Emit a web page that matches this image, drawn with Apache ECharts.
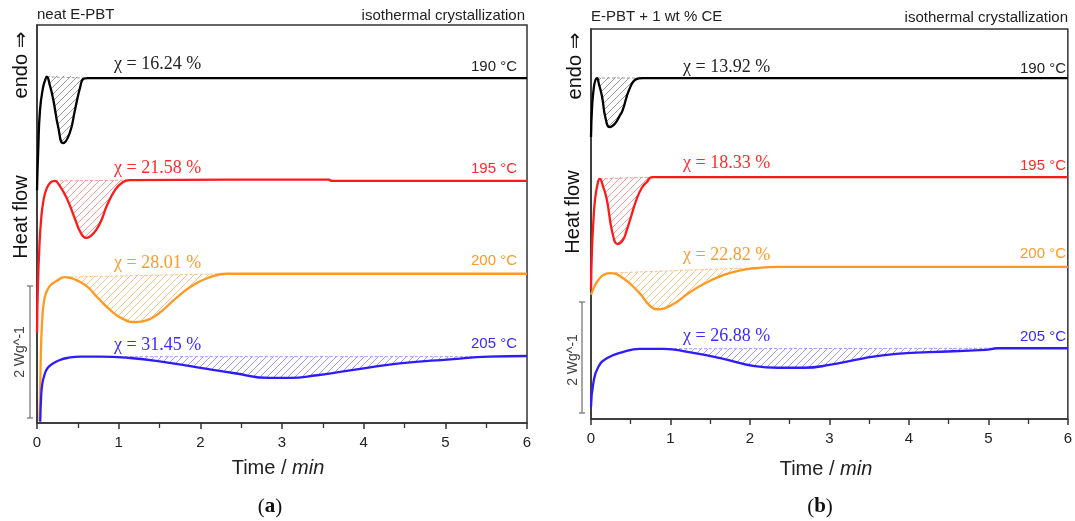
<!DOCTYPE html>
<html><head><meta charset="utf-8">
<script src="https://cdn.jsdelivr.net/npm/echarts@6/dist/echarts.min.js"></script>
<style>html,body{margin:0;padding:0;background:#fff}#c{width:1075px;height:521px}</style>
</head><body><div id="c"></div>
<script>
// ---------- data ----------
const temps = ['190 °C', '195 °C', '200 °C', '205 °C'];
const crystA = ['χ = 16.24 %', 'χ = 21.58 %', 'χ = 28.01 %', 'χ = 31.45 %'];
const crystB = ['χ = 13.92 %', 'χ = 18.33 %', 'χ = 22.82 %', 'χ = 26.88 %'];
const xTicks = [0, 1, 2, 3, 4, 5, 6];

// panel (a): neat E-PBT  (time in min, heat flow in W/g, curves offset)
const tA190 = [0,0.015,0.037,0.073,0.1,0.119,0.16,0.2,0.26,0.32,0.4,0.465,0.53,0.57,0.62,6];
const vA190 = [3.51,4.12,4.72,5.05,5.17,5.22,5.08,4.87,4.46,4.22,4.37,4.72,5.07,5.19,5.20,5.20];
const tA195 = [0,0.01,0.03,0.05,0.08,0.12,0.17,0.22,0.27,0.36,0.47,0.53,0.6,0.66,0.73,0.8,0.85,0.955,1.05,1.14,3.58,3.6,6];
const vA195 = [1.36,2.01,2.68,3.06,3.36,3.54,3.63,3.65,3.59,3.40,3.06,2.88,2.79,2.82,2.92,3.09,3.26,3.51,3.63,3.66,3.67,3.65,3.65];
const tA200 = [0.03,0.04,0.05,0.065,0.08,0.11,0.16,0.24,0.34,0.45,0.6,0.75,0.9,1.05,1.2,1.35,1.5,1.7,1.9,2.1,2.33,6];
const vA200 = [0.03,0.57,1.18,1.58,1.78,1.96,2.07,2.14,2.20,2.17,2.07,1.88,1.70,1.57,1.52,1.55,1.66,1.88,2.07,2.19,2.25,2.25];
const tA205 = [0.04,0.05,0.065,0.09,0.13,0.2,0.28,0.37,0.53,0.77,1.14,1.5,2.0,2.42,2.85,3.1,3.43,3.71,4.04,4.44,5.06,5.54,6];
const vA205 = [0.02,0.38,0.59,0.72,0.83,0.90,0.95,0.98,1.00,1.00,0.98,0.93,0.83,0.75,0.68,0.68,0.72,0.77,0.83,0.90,0.96,1.00,1.01];
// hatched crystallization areas: [tStart, baselineStart, tEnd, baselineEnd]
const hatchA = [[0.119,5.22,0.57,5.20],[0.22,3.65,1.14,3.66],[0.34,2.20,2.33,2.25],[0.77,1.00,5.54,1.00]];

// panel (b): E-PBT + 1 wt % CE
const tB190 = [0,0.015,0.035,0.055,0.075,0.1,0.14,0.18,0.236,0.3,0.36,0.4,0.48,0.57,0.65,6];
const vB190 = [5.06,5.64,5.94,6.08,6.12,6.01,5.78,5.42,5.24,5.30,5.44,5.55,5.91,6.10,6.12,6.12];
const tB195 = [0,0.012,0.03,0.05,0.087,0.11,0.15,0.2,0.27,0.335,0.4,0.45,0.51,0.57,0.64,0.7,0.77,6];
const vB195 = [2.32,3.03,3.54,3.93,4.25,4.31,4.18,3.93,3.34,3.14,3.21,3.39,3.66,3.93,4.15,4.25,4.34,4.34];
const tB200 = [0,0.04,0.075,0.15,0.236,0.4,0.61,0.73,0.83,1.02,1.23,1.44,1.64,1.85,2.1,2.35,6];
const vB200 = [2.23,2.37,2.46,2.58,2.62,2.53,2.26,2.05,1.97,2.05,2.26,2.44,2.57,2.66,2.71,2.73,2.73];
const tB205 = [0,0.03,0.09,0.2,0.4,0.61,0.92,1.23,1.64,2.06,2.35,2.68,3.0,3.43,3.84,4.25,4.96,5.12,6];
const vB205 = [0.22,0.65,0.93,1.09,1.20,1.26,1.26,1.20,1.09,0.95,0.92,0.92,0.97,1.09,1.17,1.20,1.24,1.27,1.27];
const hatchB = [[0.075,6.12,0.65,6.12],[0.11,4.31,0.77,4.34],[0.236,2.62,2.35,2.73],[0.73,1.26,5.12,1.27]];

// ---------- styles ----------
const lineColors = ['#000000', '#ff1a1a', '#ff9922', '#2e1cff'];
const hatchColors = ['#9a9a9a', '#f59a9a', '#f9c48a', '#a09aff'];
const textColors = ['#222222', '#ff2a2a', '#ff9a2a', '#3a2aff'];
const SANS = 'Liberation Sans, Arial, DejaVu Sans, sans-serif';
const SERIF = 'Liberation Serif, Times New Roman, serif';

function hatchTile(color) {
  const n = 7;
  const c = document.createElement('canvas');
  c.width = n; c.height = n;
  const g = c.getContext('2d');
  g.strokeStyle = color; g.lineWidth = 1;
  g.beginPath();
  g.moveTo(0, n); g.lineTo(n, 0);
  g.moveTo(-1, 1); g.lineTo(1, -1);
  g.moveTo(n - 1, n + 1); g.lineTo(n + 1, n - 1);
  g.stroke();
  return c;
}

const panels = [
  {t: [tA190, tA195, tA200, tA205], v: [vA190, vA195, vA200, vA205], h: hatchA},
  {t: [tB190, tB195, tB200, tB205], v: [vB190, vB195, vB200, vB205], h: hatchB}
];

const series = [];
panels.forEach((p, pi) => {
  for (let i = 0; i < 4; i++) {
    const ts = p.t[i], vs = p.v[i];
    const tile = hatchTile(hatchColors[i]);
    series.push({
      type: 'custom', xAxisIndex: pi, yAxisIndex: pi, z: 1, silent: true,
      data: [p.h[i]],
      renderItem: function (params, api) {
        const t1 = api.value(0), b1 = api.value(1), t2 = api.value(2), b2 = api.value(3);
        const pts = [api.coord([t1, b1])];
        for (let k = 0; k < ts.length; k++) {
          if (ts[k] > t1 && ts[k] < t2) pts.push(api.coord([ts[k], vs[k]]));
        }
        const e = api.coord([t2, b2]);
        pts.push(e);
        return {type: 'group', children: [
          {type: 'polygon', shape: {points: pts, smooth: 0.3}, style: {fill: {image: tile, repeat: 'repeat'}, stroke: null}},
          {type: 'line', shape: {x1: pts[0][0], y1: pts[0][1], x2: e[0], y2: e[1]},
           style: {stroke: hatchColors[i], lineWidth: 1, lineDash: [3, 2]}}
        ]};
      }
    });
    series.push({
      type: 'line', xAxisIndex: pi, yAxisIndex: pi, z: 3, silent: true,
      data: ts.map((t, k) => [t, vs[k]]),
      showSymbol: false, smooth: 0.5,
      lineStyle: {color: lineColors[i], width: 2.3},
      itemStyle: {color: lineColors[i]}
    });
  }
});

function xAxisCfg(idx) {
  return {
    type: 'value', gridIndex: idx, min: xTicks[0], max: xTicks[xTicks.length - 1], interval: 1,
    axisLine: {show: true, lineStyle: {color: '#333', width: 1.5}},
    axisTick: {show: true, length: 6, lineStyle: {color: '#333', width: 1.5}},
    minorTick: {show: true, splitNumber: 2, length: 5, lineStyle: {color: '#333', width: 1.3}},
    axisLabel: {fontSize: 15, color: '#222', margin: 12, fontFamily: SANS, showMaxLabel: true, showMinLabel: true},
    splitLine: {show: false}, minorSplitLine: {show: false}
  };
}
function yAxisCfg(idx, max) {
  return {
    type: 'value', gridIndex: idx, min: 0, max: max,
    axisLine: {show: true, lineStyle: {color: '#333', width: 1.5}},
    axisTick: {show: false}, axisLabel: {show: false}, splitLine: {show: false}
  };
}

function txt(x, y, text, opts) {
  return Object.assign({type: 'text', x: x, y: y, silent: true, style: Object.assign({
    text: text, fill: '#222', font: '15px ' + SANS,
    textAlign: 'left', textVerticalAlign: 'middle', align: 'left', verticalAlign: 'middle'
  }, opts && opts.style)}, opts && opts.el);
}
function rot(x, y, text, size, color) {
  return {type: 'text', x: x, y: y, rotation: Math.PI / 2, silent: true,
    style: {text: text, fill: color, font: size + 'px ' + SANS,
      textAlign: 'center', textVerticalAlign: 'middle', align: 'center', verticalAlign: 'middle'}};
}
function scaleBar(x, y1, y2) {
  const st = {stroke: '#8a8a8a', lineWidth: 1.5};
  return [
    {type: 'line', silent: true, shape: {x1: x, y1: y1, x2: x, y2: y2}, style: st},
    {type: 'line', silent: true, shape: {x1: x - 3, y1: y1, x2: x + 3, y2: y1}, style: st},
    {type: 'line', silent: true, shape: {x1: x - 3, y1: y2, x2: x + 3, y2: y2}, style: st}
  ];
}
function al(a) { return {style: {textAlign: a, align: a}}; }

const graphics = [];
// titles
graphics.push(txt(37, 15, 'neat E-PBT'));
graphics.push(txt(525, 16, 'isothermal crystallization', al('right')));
graphics.push(txt(591, 17, 'E-PBT + 1 wt % CE'));
graphics.push(txt(1068, 18, 'isothermal crystallization', al('right')));
// y titles
graphics.push(rot(21, 217, 'Heat flow', 20, '#111'));
graphics.push(rot(21, 65, 'endo ⇒', 20, '#111'));
graphics.push(rot(573, 212, 'Heat flow', 20, '#111'));
graphics.push(rot(575, 66, 'endo ⇒', 20, '#111'));
// scale bars
graphics.push(...scaleBar(30, 286, 418));
graphics.push(...scaleBar(582, 302, 413));
graphics.push(rot(20, 352, '2 Wg^-1', 14, '#444'));
graphics.push(rot(573, 360, '2 Wg^-1', 14, '#444'));
// temperature labels
const tempYA = [67, 169, 261, 344], tempYB = [69, 166, 254, 337];
const chiYA = [64, 168, 263, 345], chiYB = [67, 163, 255, 336];
for (let i = 0; i < 4; i++) {
  graphics.push(txt(517, tempYA[i], temps[i], {style: {fill: textColors[i], textAlign: 'right', align: 'right'}}));
  graphics.push(txt(1066, tempYB[i], temps[i], {style: {fill: textColors[i], textAlign: 'right', align: 'right'}}));
  graphics.push(txt(114, chiYA[i], crystA[i], {style: {fill: textColors[i], font: '18px ' + SERIF}}));
  graphics.push(txt(683, chiYB[i], crystB[i], {style: {fill: textColors[i], font: '18px ' + SERIF}}));
}
// x titles
function xTitle(x, y) {
  return {type: 'text', x: x, y: y, silent: true,
    style: {text: 'Time / {i|min}', fill: '#222', font: '20px ' + SANS,
      textAlign: 'center', textVerticalAlign: 'middle', align: 'center', verticalAlign: 'middle',
      rich: {i: {fontStyle: 'italic', fontSize: 20, fontFamily: SANS, fill: '#222', color: '#222'}}}};
}
graphics.push(xTitle(278, 468));
graphics.push(xTitle(826, 469));
function panelTag(x, y, letter) {
  return {type: 'text', x: x, y: y, silent: true,
    style: {text: '({b|' + letter + '})', fill: '#111', font: '21px ' + SERIF,
      textAlign: 'center', textVerticalAlign: 'middle', align: 'center', verticalAlign: 'middle',
      rich: {b: {fontWeight: 'bold', fontSize: 21, fontFamily: SERIF, fill: '#111', color: '#111'}}}};
}
graphics.push(panelTag(270, 507, 'a'));
graphics.push(panelTag(820, 507, 'b'));

const chart = echarts.init(document.getElementById('c'), null, {renderer: 'canvas'});
chart.setOption({
  animation: false,
  backgroundColor: '#ffffff',
  grid: [
    {left: 37, top: 25, width: 490, height: 398, show: true, borderColor: '#333', borderWidth: 1.5, containLabel: false},
    {left: 591, top: 29, width: 483, height: 390, show: true, borderColor: '#333', borderWidth: 1.5, containLabel: false}
  ],
  xAxis: [xAxisCfg(0), xAxisCfg(1)],
  yAxis: [yAxisCfg(0, 6), yAxisCfg(1, 7)],
  series: series,
  graphic: graphics
});
</script></body></html>
